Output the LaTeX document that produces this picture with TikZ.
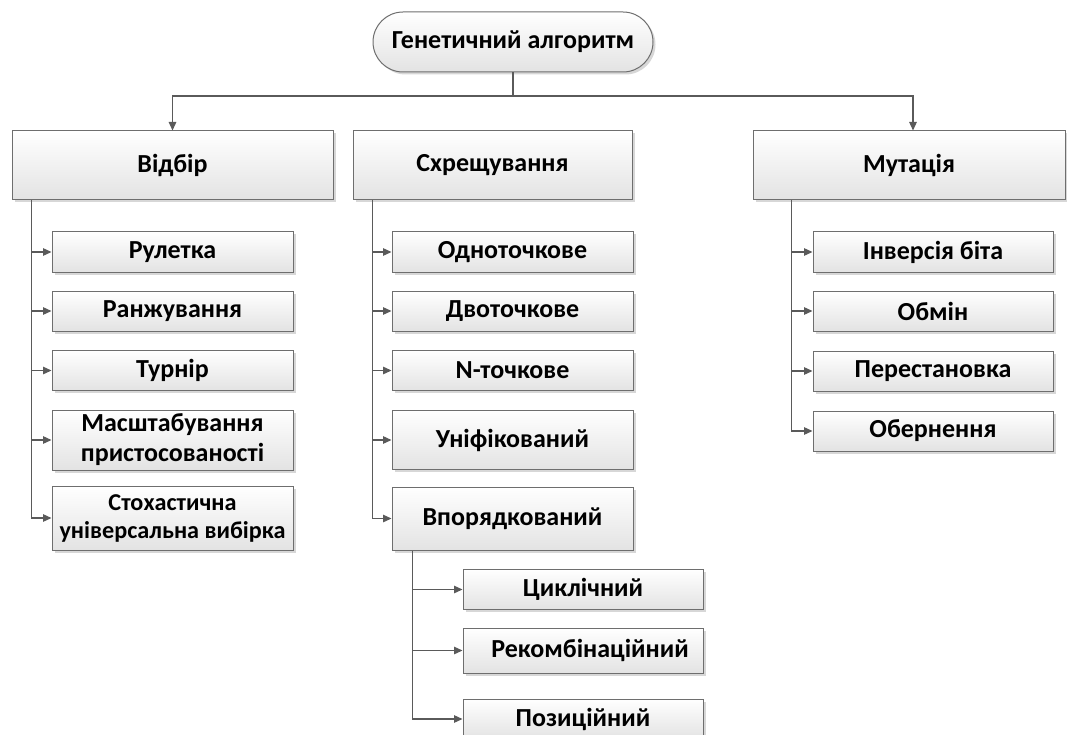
\documentclass[tikz,border=0pt]{standalone}
\usepackage{fontspec}
\setmainfont{Carlito}
\usetikzlibrary{shadows,arrows.meta,shapes.misc}
\definecolor{linec}{HTML}{5A5A5A}
\definecolor{edgec}{HTML}{6E6E6E}
\tikzset{
  box/.style={draw=edgec, line width=1pt, top color=white, bottom color=black!11,
    drop shadow={shadow xshift=2.5pt, shadow yshift=-2.5pt, fill=black!35, opacity=0.45},
    minimum height=40pt, inner sep=0pt, align=center,
    font=\fontsize{26}{30}\selectfont\bfseries},
  head/.style={box, minimum height=69pt},
  leaf/.style={box, minimum width=241pt},
  plain/.style={draw=linec, line width=1.3pt},
  conn/.style={plain, -{Triangle[length=8.5pt,width=7.5pt]}},
}
\begin{document}
\begin{tikzpicture}[x=1pt,y=-1pt]
\useasboundingbox (0,0) rectangle (1067,735);
\clip (0,0) rectangle (1067,735);

% root
\node[box, rounded rectangle, minimum width=280pt, minimum height=60pt] (root) at (513,42) {Генетичний алгоритм};

% three branches
\node[head, minimum width=321pt] (sel) at (172.5,165.5) {Відбір};
\node[head, minimum width=279pt] (cross) at (492.5,165.5) {Схрещування};
\node[head, minimum width=312pt] (mut) at (909,165.5) {Мутація};

% selection methods
\node[leaf] (s1) at (172.5,252) {Рулетка};
\node[leaf] (s2) at (172.5,311) {Ранжування};
\node[leaf] (s3) at (172.5,370.5) {Турнір};
\node[leaf, minimum height=60pt] (s4) at (172.5,440) {Масштабування\\пристосованості};
\node[leaf, minimum height=64pt, font=\fontsize{24.2}{28}\selectfont\bfseries] (s5) at (172.5,518) {Стохастична\\універсальна вибірка};

% crossover methods
\node[leaf] (c1) at (512.5,252) {Одноточкове};
\node[leaf] (c2) at (512.5,311) {Двоточкове};
\node[leaf] (c3) at (512.5,370.5) {N-точкове};
\node[leaf, minimum height=59pt] (c4) at (512.5,440) {Уніфікований};
\node[leaf, minimum height=63pt] (c5) at (512.5,518.5) {Впорядкований};

% ordered crossover variants
\node[leaf, minimum width=240pt] (o1) at (583,589.5) {Циклічний};
\node[leaf, minimum width=240pt, minimum height=45pt] (o2) at (583,650.5) {\hspace*{14pt}Рекомбінаційний};
\node[leaf, minimum width=240pt] (o3) at (583,719) {Позиційний};

% mutation methods
\node[leaf, minimum width=240pt] (m1) at (933,252) {Інверсія біта};
\node[leaf, minimum width=240pt] (m2) at (933,311) {Обмін};
\node[leaf, minimum width=240pt] (m3) at (933,371) {Перестановка};
\node[leaf, minimum width=240pt] (m4) at (933,431) {Обернення};

% root to branches
\coordinate (bar) at (513,96);
\draw[plain] (root.south) -- (bar);
\draw[plain] (bar) -| (cross.north |- bar);
\draw[conn] (bar) -| (sel.north);
\draw[conn] (bar) -| ([xshift=4pt]mut.north);

% spines
\coordinate (sp1) at ([xshift=20pt]sel.south west);
\coordinate (sp2) at ([xshift=20pt]cross.south west);
\coordinate (sp3) at ([xshift=39pt]mut.south west);
\coordinate (sp4) at ([xshift=21pt]c5.south west);

\foreach \n in {s1,s2,s3,s4,s5} \draw[conn] (sp1) |- (\n.west);
\foreach \n in {c1,c2,c3,c4,c5} \draw[conn] (sp2) |- (\n.west);
\foreach \n in {m1,m2,m3,m4} \draw[conn] (sp3) |- (\n.west);
\foreach \n in {o1,o2,o3} \draw[conn] (sp4) |- (\n.west);
\end{tikzpicture}
\end{document}
